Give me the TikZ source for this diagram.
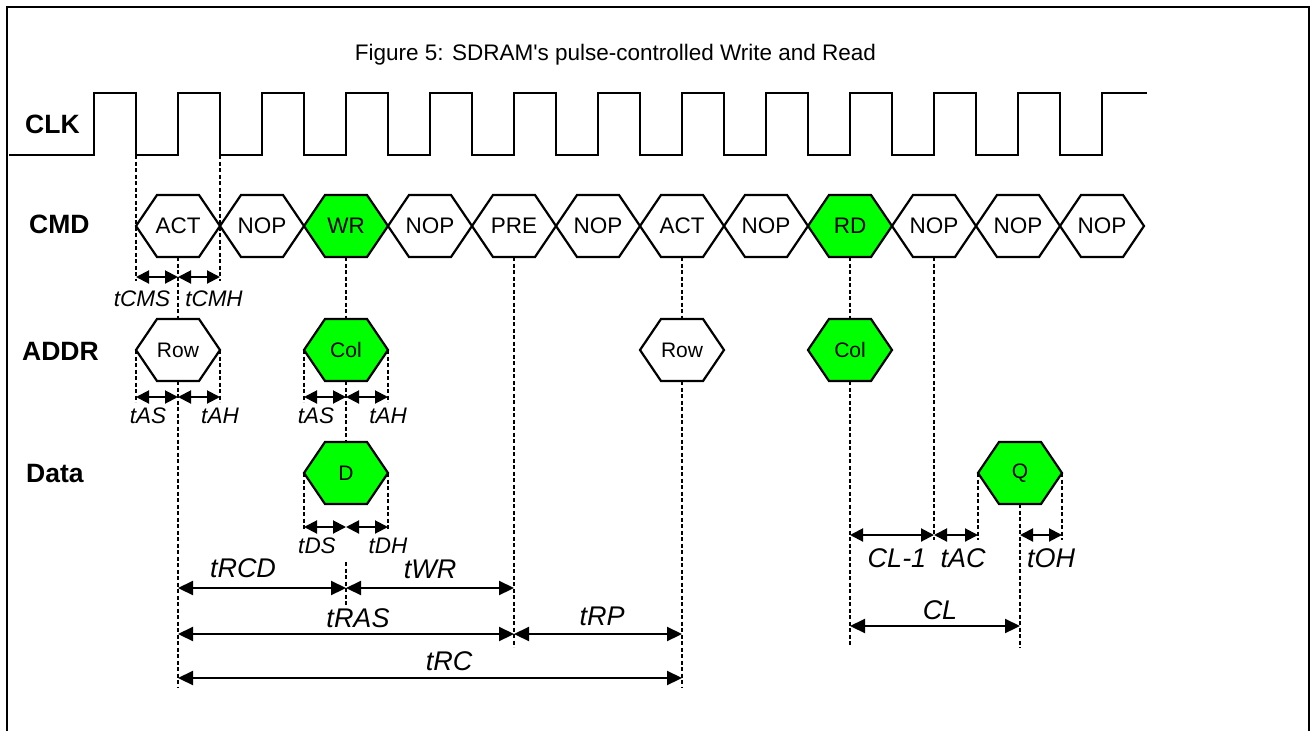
\documentclass[tikz,border=0pt]{standalone}
\usepackage{fontspec}
\setmainfont{Liberation Sans}[Ligatures=TeXOff]
\usetikzlibrary{arrows.meta}

\definecolor{sigGreen}{RGB}{0,255,0}

\tikzset{
  wave/.style={line width=2.2pt, line join=miter},
  hexline/.style={line width=2.2pt, line join=miter},
  hexbox/.style={minimum width=84pt, minimum height=62pt, inner sep=0pt, outer sep=0pt},
  cmdtext/.style={font=\fontsize{22.5}{26}\selectfont},
  valtext/.style={font=\fontsize{21}{25}\selectfont},
  rowlabel/.style={font=\bfseries\fontsize{26.5}{30}\selectfont, anchor=base west, inner sep=0pt},
  titletext/.style={font=\fontsize{22.5}{26}\selectfont, anchor=base, inner sep=0pt},
  guide/.style={line width=1.3pt, dash pattern=on 4pt off 2.5pt},
  dimarrow/.style={line width=2pt, >={Triangle[length=13pt,width=13pt]}, <->},
  bigarrow/.style={line width=2.2pt, >={Triangle[length=15pt,width=14pt]}, <->},
  smalltime/.style={font=\itshape\fontsize{22.5}{26}\selectfont, anchor=base, inner sep=0pt},
  bigtime/.style={font=\itshape\fontsize{27}{31}\selectfont, anchor=base, inner sep=0pt},
}

% signal value: elongated hexagon centred at (#2,#3), named #1
\newcommand\hexsig[6]{%
  \filldraw[hexline, fill=#4] (#2-42,#3) -- (#2-21,#3-31) -- (#2+21,#3-31)
    -- (#2+42,#3) -- (#2+21,#3+31) -- (#2-21,#3+31) -- cycle;
  \node[hexbox, #5] (#1) at (#2,#3) {#6};}

\begin{document}
\begin{tikzpicture}[x=1pt, y=-1pt]
\useasboundingbox (0,0) rectangle (1315,731);
\fill[white] (0,0) rectangle (1315,731);

% frame
\draw[line width=2pt] (6.5,731) -- (6.5,6.5) -- (1309,6.5) -- (1309,731);

% title
\node[titletext] (title) at (615.5,60) {Figure 5: SDRAM's pulse-controlled Write and Read};

% row labels
\node[rowlabel] (lclk)  at (25,133) {CLK};
\node[rowlabel] (lcmd)  at (29,233) {CMD};
\node[rowlabel] (laddr) at (22,360) {ADDR};
\node[rowlabel] (ldata) at (26,482) {Data};

% clock waveform
\draw[wave] (9,155) foreach \k in {0,...,11} {
    -- (94+84*\k,155) -- (94+84*\k,93) -- (136+84*\k,93) -- (136+84*\k,155) }
  -- (1102,155) -- (1102,93) -- (1147,93);
\coordinate (fall0) at (136,155);
\coordinate (fall1) at (220,155);

% guide lines from the clock edges
\coordinate (cmsL) at (136,277);
\coordinate (cmsM) at (178,277);
\coordinate (cmsR) at (220,277);
\draw[guide] (fall0) -- (136,281);
\draw[guide] (fall1) -- (220,281);

% command bus
\hexsig{c1}{178}{226}{white}{cmdtext}{ACT}
\hexsig{c2}{262}{226}{white}{cmdtext}{NOP}
\hexsig{c3}{346}{226}{sigGreen}{cmdtext}{WR}
\hexsig{c4}{430}{226}{white}{cmdtext}{NOP}
\hexsig{c5}{514}{226}{white}{cmdtext}{PRE}
\hexsig{c6}{598}{226}{white}{cmdtext}{NOP}
\hexsig{c7}{682}{226}{white}{cmdtext}{ACT}
\hexsig{c8}{766}{226}{white}{cmdtext}{NOP}
\hexsig{c9}{850}{226}{sigGreen}{cmdtext}{RD}
\hexsig{c10}{934}{226}{white}{cmdtext}{NOP}
\hexsig{c11}{1018}{226}{white}{cmdtext}{NOP}
\hexsig{c12}{1102}{226}{white}{cmdtext}{NOP}

% address bus
\hexsig{a1}{178}{350}{white}{valtext}{Row}
\hexsig{a2}{346}{350}{sigGreen}{valtext}{Col}
\hexsig{a3}{682}{350}{white}{valtext}{Row}
\hexsig{a4}{850}{350}{sigGreen}{valtext}{Col}

% data bus
\hexsig{d1}{346}{473}{sigGreen}{valtext}{D}
\hexsig{d2}{1020}{473}{sigGreen}{valtext}{Q}

% vertical guides
\draw[guide] (c1.south) -- (a1.north);
\draw[guide] (a1.west) -- (136,402);
\draw[guide] (a1.east) -- (220,402);
\draw[guide] (a1.south) -- (178,687);
\draw[guide] (c3.south) -- (a2.north);
\draw[guide] (a2.west) -- (304,402);
\draw[guide] (a2.east) -- (388,402);
\draw[guide] (a2.south) -- (d1.north);
\draw[guide] (d1.west) -- (304,531);
\draw[guide] (d1.east) -- (388,531);
\draw[guide] (346,562) -- (346,605);
\draw[guide] (c5.south) -- (514,647);
\draw[guide] (c7.south) -- (a3.north);
\draw[guide] (a3.south) -- (682,687);
\draw[guide] (c9.south) -- (a4.north);
\draw[guide] (a4.south) -- (850,647);
\draw[guide] (c10.south) -- (934,540);
\draw[guide] (d2.west) -- (978,540);
\draw[guide] (d2.east) -- (1062,540);
\draw[guide] (d2.south) -- (1020,648);

% setup / hold arrows
\draw[dimarrow] (cmsL) -- (cmsM);
\draw[dimarrow] (cmsM) -- (cmsR);
\draw[dimarrow] (136,397) -- (178,397);
\draw[dimarrow] (178,397) -- (220,397);
\draw[dimarrow] (304,397) -- (346,397);
\draw[dimarrow] (346,397) -- (388,397);
\draw[dimarrow] (304,527) -- (346,527);
\draw[dimarrow] (346,527) -- (388,527);
\draw[dimarrow] (850,535) -- (934,535);
\draw[dimarrow] (934,535) -- (978,535);
\draw[dimarrow] (1020,535) -- (1062,535);

% long interval arrows
\draw[bigarrow] (178,588) -- (346,588);
\draw[bigarrow] (346,588) -- (514,588);
\draw[bigarrow] (178,634) -- (514,634);
\draw[bigarrow] (514,634) -- (682,634);
\draw[bigarrow] (178,678) -- (682,678);
\draw[bigarrow] (850,626) -- (1020,626);

% timing labels
\node[smalltime] (tcms)  at (142,306) {tCMS};
\node[smalltime] (tcmh)  at (214,306) {tCMH};
\node[smalltime] (tas1)  at (148,423) {tAS};
\node[smalltime] (tah1)  at (220,423) {tAH};
\node[smalltime] (tas2)  at (316,423) {tAS};
\node[smalltime] (tah2)  at (388,423) {tAH};
\node[smalltime] (tds)   at (317,553) {tDS};
\node[smalltime] (tdh)   at (388,553) {tDH};
\node[bigtime] (trcd) at (243,577) {tRCD};
\node[bigtime] (twr)  at (430,578) {tWR};
\node[bigtime] (tras) at (358,627) {tRAS};
\node[bigtime] (trp)  at (602,625) {tRP};
\node[bigtime] (trc)  at (449,670) {tRC};
\node[bigtime] (clm1) at (897,567) {CL-1};
\node[bigtime] (tac)  at (963,567) {tAC};
\node[bigtime] (toh)  at (1051,567) {tOH};
\node[bigtime] (cl)   at (940,619) {CL};
\end{tikzpicture}
\end{document}
